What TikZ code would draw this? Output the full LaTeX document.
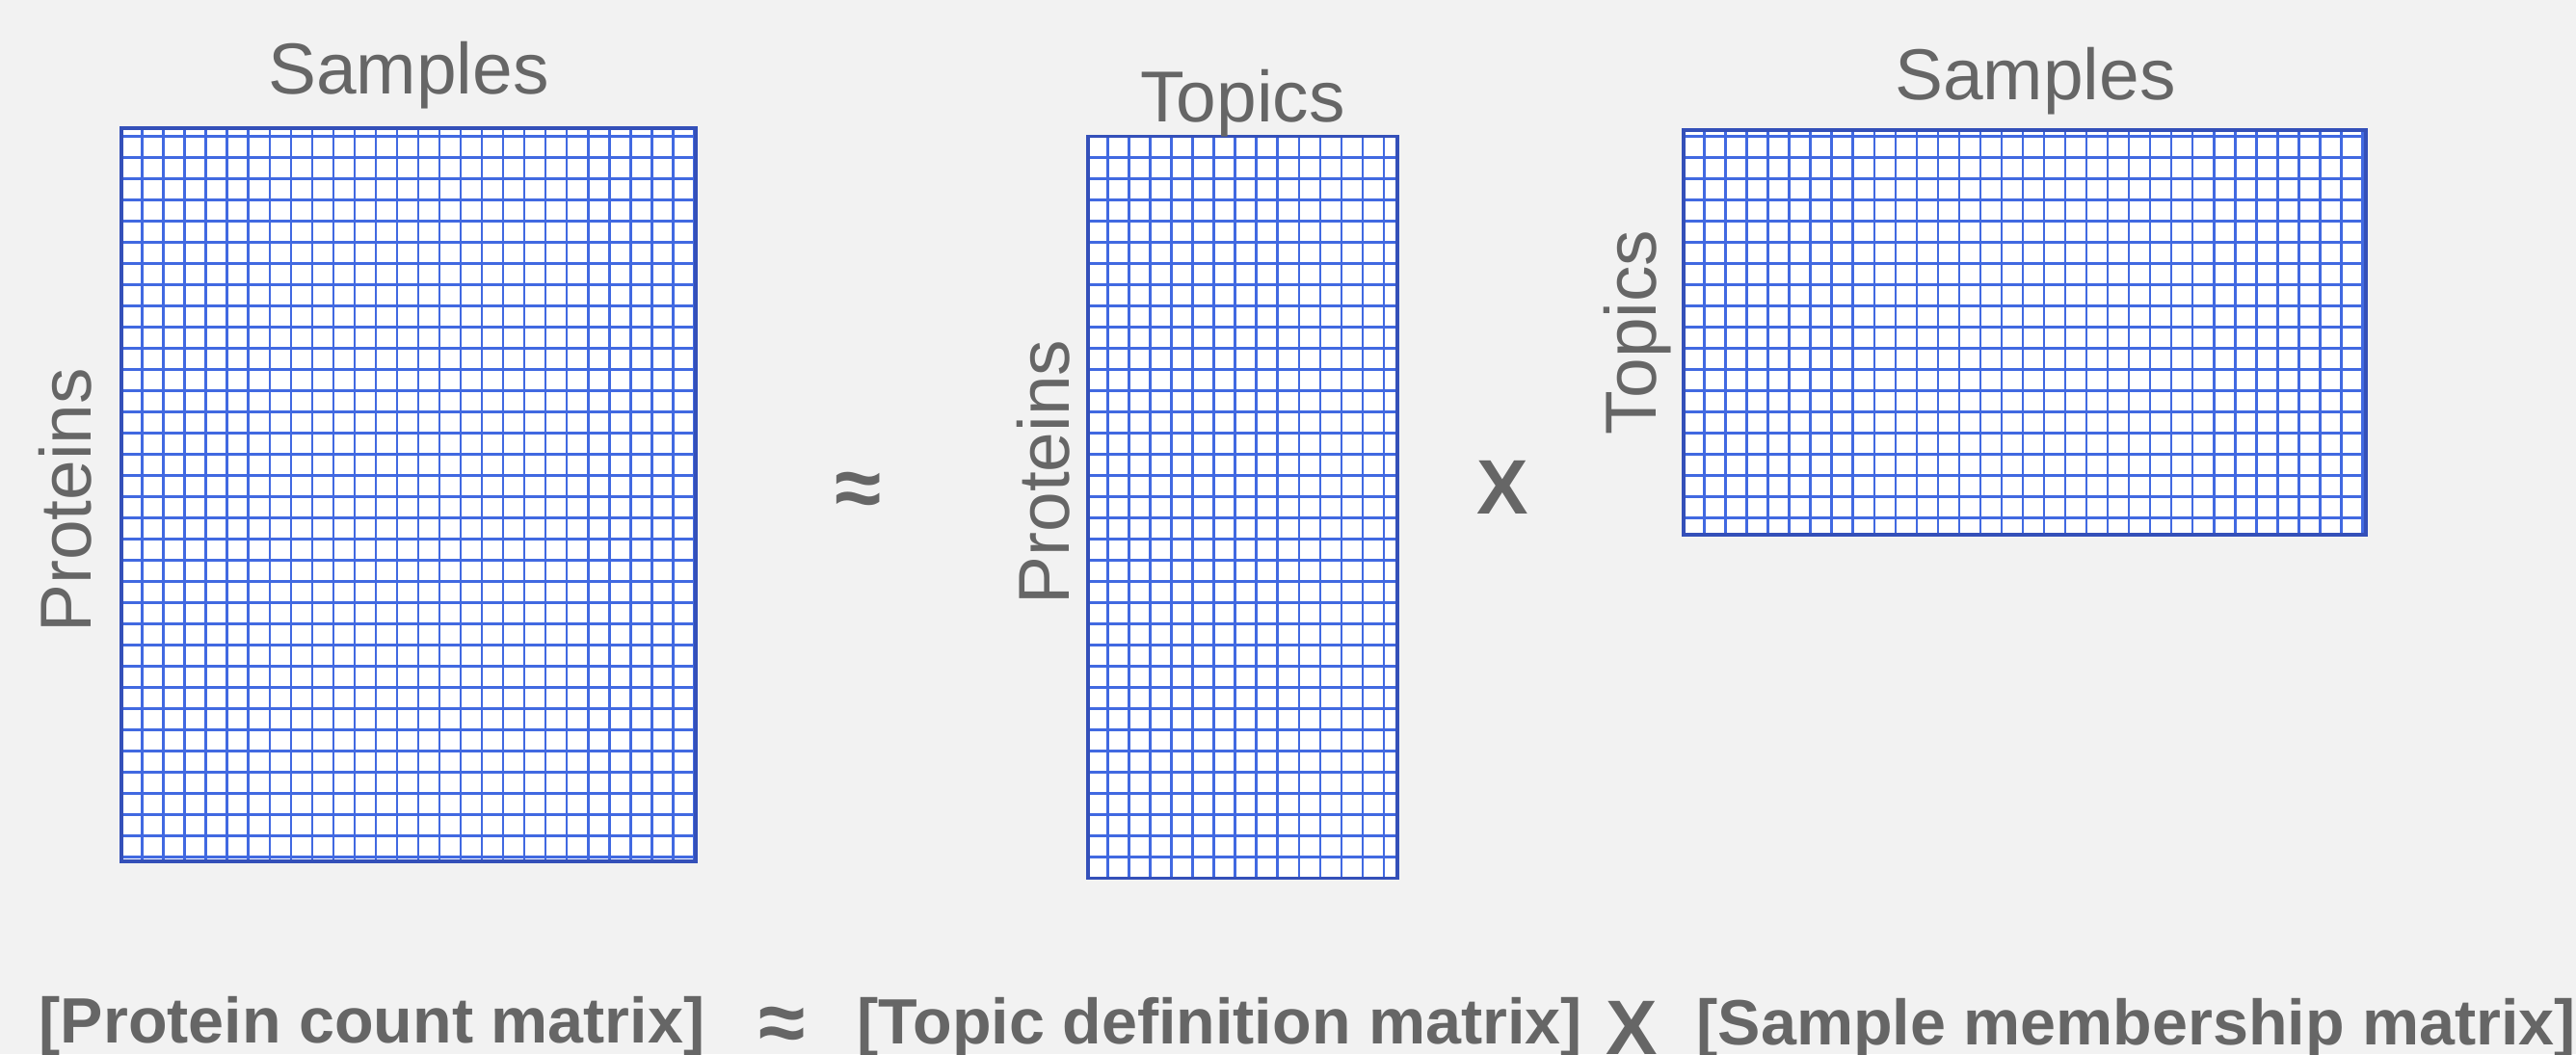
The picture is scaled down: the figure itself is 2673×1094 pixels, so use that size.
\documentclass[tikz,border=0pt]{standalone}
\usepackage{fontspec}
\setmainfont{Liberation Sans}
\definecolor{bgc}{RGB}{242,242,242}
\definecolor{txtc}{RGB}{102,102,102}
\definecolor{gridc}{RGB}{65,105,225}
\definecolor{bordc}{RGB}{52,80,185}
\tikzset{
  gridline/.style={draw=gridc, line width=0.72pt},
  gridborder/.style={draw=bordc, line width=1pt},
  lbl/.style={text=txtc, inner sep=0pt, font=\fontsize{21.3pt}{25pt}\selectfont},
  bottomlbl/.style={text=txtc, inner sep=0pt, font=\bfseries\fontsize{18.9pt}{22pt}\selectfont},
  opsym/.style={text=txtc, inner sep=0pt, font=\bfseries\fontsize{22.8pt}{26pt}\selectfont},
  approxsym/.style={text=txtc, inner sep=0pt, font=\bfseries\fontsize{25pt}{28pt}\selectfont},
}
\newcommand{\patgrid}[6]{%
  \begin{scope}
    \clip (#1,#2) rectangle (#3,#4);
    \fill[white] (#1,#2) rectangle (#3,#4);
    \foreach \i in {0,...,34} {\draw[gridline] ({#5+22.03*\i},#2) -- ({#5+22.03*\i},#4);}
    \foreach \j in {0,...,36} {\draw[gridline] (#1,{#6+22.0*\j}) -- (#3,{#6+22.0*\j});}
  \end{scope}
  \draw[gridborder] (#1,#2) rectangle (#3,#4);
}
\begin{document}
\begin{tikzpicture}[x=0.01cm,y=-0.01cm]
\fill[bgc] (0,0) rectangle (2673,1094);
\useasboundingbox (0,0) rectangle (2673,1094);

% grids
\patgrid{126}{133}{722}{894}{147.6}{141.5}
\patgrid{1129}{141.3}{1450}{911.3}{1149.5}{141.5}
\patgrid{1747}{135}{2455}{555}{1768.5}{141.7}

% top labels
\node[lbl, anchor=base] (samplesA) at (424,97.7) {Samples};
\node[lbl, anchor=base] (topicsB) at (1289.5,127) {Topics};
\node[lbl, anchor=base] (samplesC) at (2112,103.3) {Samples};

% rotated labels
\node[lbl, anchor=base, rotate=90] (proteinsA) at (94.5,519.5) {Proteins};
\node[lbl, anchor=base, rotate=90] (proteinsB) at (1109.3,490) {Proteins};
\node[lbl, anchor=base, rotate=90] (topicsC) at (1718.3,345) {Topics};

% operators
\node[approxsym] (approxMid) at (890.5,513) {≈};
\node[opsym] (timesMid) at (1559.5,506) {X};

% bottom equation
\node[bottomlbl, anchor=base west] (eqA) at (40,1082.3) {[Protein count matrix]};
\node[approxsym] (approxBot) at (811.5,1068.7) {≈};
\node[bottomlbl, anchor=base west] (eqB) at (889,1083) {[Topic definition matrix]};
\node[opsym] (timesBot) at (1693.5,1066.7) {X};
\node[bottomlbl, anchor=base west] (eqC) at (1760,1084.3) {[Sample membership matrix]};
\end{tikzpicture}
\end{document}
